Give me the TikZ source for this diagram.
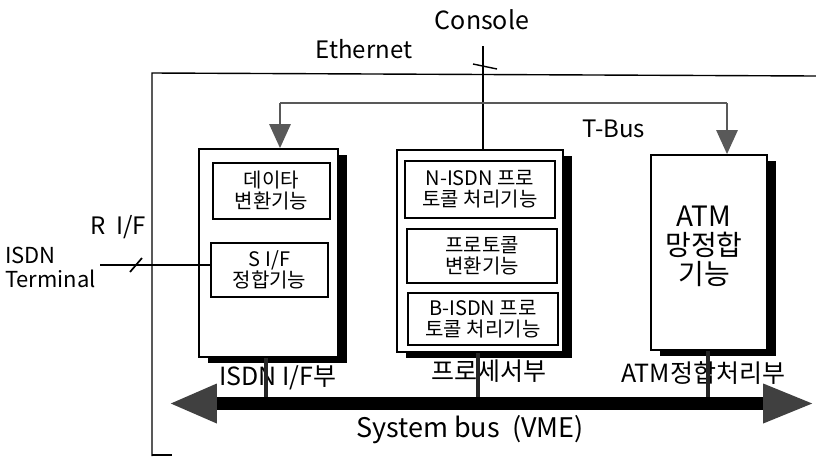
\documentclass[tikz,border=0pt]{standalone}
\usepackage{fontspec}
\setmainfont{Noto Sans CJK KR}
\usetikzlibrary{arrows.meta,shadows}
\begin{document}
\begin{tikzpicture}[x=1pt,y=-1pt,
  box/.style={draw,line width=1.7pt,fill=white,inner sep=0pt,
    drop shadow={shadow xshift=9pt,shadow yshift=-6pt,fill=black,opacity=1}},
  ibox/.style={draw,line width=1.6pt,fill=white,inner sep=0pt,align=center,
    font=\fontsize{20}{21}\selectfont},
  lbl/.style={inner sep=0pt,font=\fontsize{24}{26}\selectfont},
  tbus/.style={draw=black!65,line width=2.8pt},
  tbtip/.style={-{Triangle[width=21pt,length=24pt]}},
  conn/.style={draw=black!85,line width=4.5pt},
  frame/.style={line width=1.4pt},
  headfill/.style={fill=black!75}]
\useasboundingbox (0,0) rectangle (816,456);

% outer frame
\draw[frame] (816,76) -- (152,73) -- (152,456);
\draw[frame] (152,455) -- (172,455);

% main boxes
\node[box,minimum width=139pt,minimum height=208pt] (lbox) at (268.5,253) {};
\node[box,minimum width=166pt,minimum height=202pt] (pbox) at (480,251) {};
\node[box,minimum width=116pt,minimum height=195pt] (abox) at (709,252.5) {};

% inner boxes
\node[ibox,minimum width=117pt,minimum height=56pt] (data) at (271.5,191) {데이타\\변환기능};
\node[ibox,minimum width=117pt,minimum height=54pt] (sif) at (269.5,270) {S I/F\\정합기능};
\node[ibox,minimum width=150pt,minimum height=57pt] (nisdn) at (480,189.5) {N-ISDN 프로\\토콜 처리기능};
\node[ibox,minimum width=150pt,minimum height=54pt] (proto) at (482,256) {프로토콜\\변환기능};
\node[ibox,minimum width=150pt,minimum height=52pt] (bisdn) at (483,319) {B-ISDN 프로\\토콜 처리기능};
\node[inner sep=0pt,align=center,font=\fontsize{28}{29}\selectfont] (atmtxt) at (704,246) {ATM\\망정합\\기능};

% texts
\node[lbl,font=\fontsize{25}{27}\selectfont] (console) at (482,20) {Console};
\node[lbl] (ethernet) at (364,49) {Ethernet};
\node[lbl] (tbuslbl) at (614,129) {T-Bus};
\node[lbl] (rif) at (118,227) {R\hspace{0.45em}I/F};
\node[inner sep=0pt,anchor=west,align=left,font=\fontsize{22}{24}\selectfont] (term) at (5,267) {ISDN\\Terminal};

% console line
\coordinate (conTop) at (483,46);
\draw[line width=1.4pt] (conTop) -- (conTop |- pbox.north);
\draw[line width=1.4pt] (473,64) -- (497,69);

% T-Bus
\coordinate (tbL) at (280,103);
\coordinate (tbR) at (727,103);
\draw[tbus] (tbL) -- (tbR);
\draw[tbus,tbtip] (tbL) -- (tbL |- lbox.north);
\draw[tbus,tbtip] (tbR) -- (tbR |- abox.north);

% ISDN terminal line
\coordinate (isdnL) at (100,265);
\draw[line width=1.5pt] (isdnL) -- (isdnL -| sif.west);
\draw[line width=1.7pt] (130,272) -- (142,258);

% labels under boxes
\node[lbl,font=\fontsize{25}{27}\selectfont] (l1) at (278,378) {ISDN I/F부};
\node[lbl,font=\fontsize{25}{27}\selectfont] (l2) at (489,371) {프로세서부};
\node[lbl,font=\fontsize{25}{27}\selectfont] (l3) at (703,373) {ATM정합처리부};

% system bus
\node[fill=black,inner sep=0pt,minimum width=546pt,minimum height=13pt] (bus) at (490,403.5) {};
\fill[headfill] ([yshift=20pt]bus.west) -- ([xshift=-46pt]bus.west) -- ([yshift=-20pt]bus.west) -- cycle;
\fill[headfill] ([yshift=20pt]bus.east) -- ([xshift=49pt]bus.east) -- ([yshift=-20pt]bus.east) -- cycle;
\node[lbl,font=\fontsize{27}{29}\selectfont] (sb) at (470,430) {System bus\ \ (VME)};

% connectors to bus
\draw[conn] ([xshift=-2.5pt]lbox.south) -- ([xshift=-2.5pt]lbox.south |- bus.north);
\draw[conn] ([xshift=-2pt]pbox.south) -- ([xshift=-2pt]pbox.south |- bus.north);
\draw[conn] ([xshift=-1pt]abox.south) -- ([xshift=-1pt]abox.south |- bus.north);
\end{tikzpicture}
\end{document}
